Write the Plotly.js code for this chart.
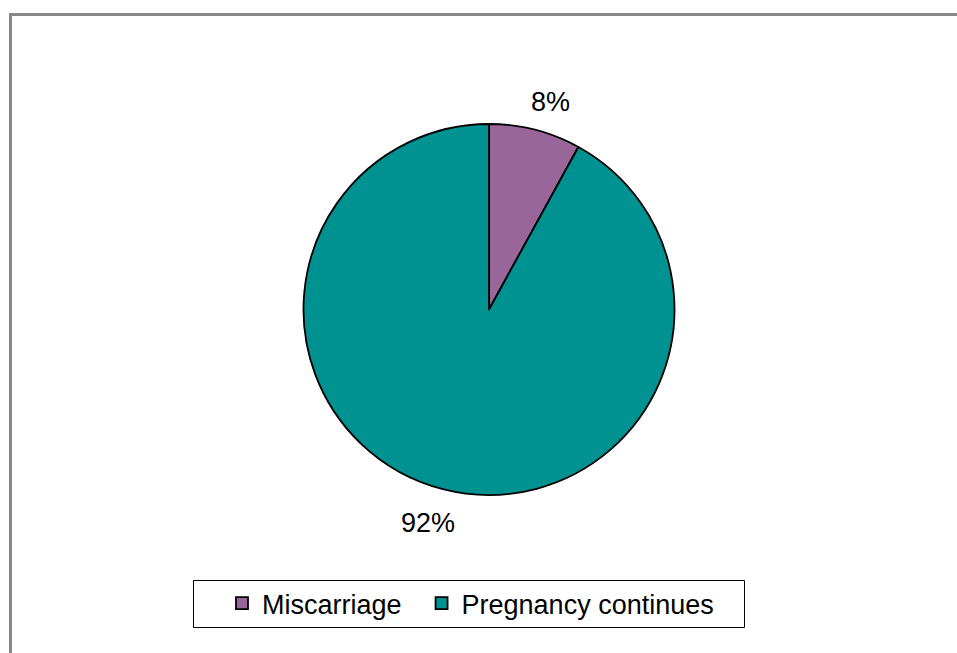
<!DOCTYPE html>
<html>
<head>
<meta charset="utf-8">
<script src="https://cdn.plot.ly/plotly-3.0.1.min.js"></script>
<style>
  html, body { margin: 0; padding: 0; background: #ffffff; }
  #chart { width: 957px; height: 653px; }
</style>
</head>
<body>
<div id="chart"></div>
<script>
// Outcome shares
const categories = ['Miscarriage', 'Pregnancy continues'];
const values = [8, 92];
const sliceColors = ['#996699', '#009191'];

const W = 957, H = 653;
// Pie geometry in pixels
const cx = 489, cy = 309.5, R = 185.5;

const domainX = [(cx - R) / W, (cx + R) / W];
const domainY = [1 - (cy + R) / H, 1 - (cy - R) / H];

// Percentage labels placed outside each slice at its mid angle
// (wider horizontal offset leaves room for the text width)
const total = values.reduce((a, b) => a + b, 0);
const annotations = [];
let cum = 0;
values.forEach((v) => {
  const mid = (cum + v / 2) / total * 2 * Math.PI; // clockwise from 12 o'clock
  cum += v;
  const px = cx + R * 1.33 * Math.sin(mid);
  const py = cy - R * 1.17 * Math.cos(mid) + 3;
  annotations.push({
    xref: 'paper', yref: 'paper',
    x: px / W, y: 1 - py / H,
    xanchor: 'center', yanchor: 'middle',
    text: Math.round(v / total * 100) + '%',
    showarrow: false,
    font: { family: 'Liberation Sans, Arial, sans-serif', size: 27, color: '#000000' }
  });
});

// Legend entries get a little trailing space so the items sit further apart
const legendLabels = categories.map((c) => c + '\u00a0\u00a0');

const trace = {
  type: 'pie',
  labels: legendLabels,
  values: values,
  sort: false,
  direction: 'clockwise',
  rotation: 0,
  textinfo: 'none',
  hoverinfo: 'label+percent',
  marker: { colors: sliceColors, line: { color: '#000000', width: 1.8 } },
  domain: { x: domainX, y: domainY }
};

const layout = {
  width: W,
  height: H,
  margin: { l: 0, r: 0, t: 0, b: 0 },
  paper_bgcolor: '#ffffff',
  showlegend: true,
  legend: {
    orientation: 'h',
    x: 222 / W, xanchor: 'left',
    y: 1 - 579 / H, yanchor: 'top',
    borderwidth: 0,
    bgcolor: 'rgba(0,0,0,0)',
    font: { family: 'Liberation Sans, Arial, sans-serif', size: 27, color: '#000000' },
    itemwidth: 30
  },
  annotations: annotations,
  shapes: [
    // chart-area frame: top and left edges
    { type: 'line', xref: 'paper', yref: 'paper', x0: 9.5 / W, x1: 1, y0: 1 - 14.5 / H, y1: 1 - 14.5 / H,
      line: { color: '#888888', width: 3 } },
    { type: 'line', xref: 'paper', yref: 'paper', x0: 10.5 / W, x1: 10.5 / W, y0: 1 - 13 / H, y1: 0,
      line: { color: '#888888', width: 3 } },
    // legend frame
    { type: 'rect', xref: 'paper', yref: 'paper', x0: 193.5 / W, x1: 744.5 / W, y0: 1 - 627.5 / H, y1: 1 - 580.5 / H,
      line: { color: '#000000', width: 1 }, fillcolor: 'rgba(0,0,0,0)' }
  ]
};

Plotly.newPlot('chart', [trace], layout, { displayModeBar: false, staticPlot: true });
</script>
</body>
</html>
